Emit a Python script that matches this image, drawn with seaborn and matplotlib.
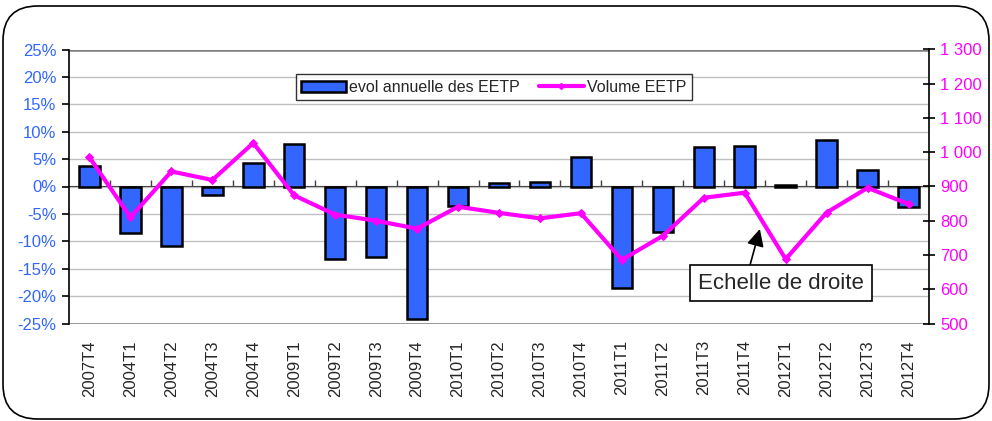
import numpy as np
import pandas as pd
import matplotlib
matplotlib.use("Agg")
import matplotlib.pyplot as plt
import seaborn as sns
from matplotlib.patches import FancyBboxPatch, Patch
from matplotlib.lines import Line2D
from matplotlib.ticker import FuncFormatter

# quarters (labels as shown on the chart)
quarters = ["2007T4", "2004T1", "2004T2", "2004T3", "2004T4", "2009T1", "2009T2",
            "2009T3", "2009T4", "2010T1", "2010T2", "2010T3", "2010T4", "2011T1",
            "2011T2", "2011T3", "2011T4", "2012T1", "2012T2", "2012T3", "2012T4"]
# annual evolution of EETP (%)
evol_pct = [3.7, -8.5, -10.9, -1.6, 4.3, 7.7, -13.2, -12.8, -24.1, -3.5, 0.7,
            0.8, 5.3, -18.5, -8.3, 7.2, 7.4, 0.3, 8.5, 3.0, -3.8]
# EETP volume (right scale)
volume = [985, 810, 944, 919, 1027, 874, 818, 800, 777, 841, 823,
          807, 822, 686, 756, 867, 882, 688, 824, 896, 849]

df = pd.DataFrame({"trimestre": quarters, "evol": evol_pct, "volume": volume})

BLUE = "#3366FF"
MAGENTA = "#FF00FF"

sns.set_style("white")
plt.rcParams["font.family"] = ["Liberation Sans", "DejaVu Sans"]

fig = plt.figure(figsize=(9.92, 4.21), dpi=100)
ax = fig.add_axes([69 / 992, 1 - 323.5 / 421, 860 / 992, 274 / 421])

# rounded chart frame
frame = FancyBboxPatch((3 / 992, 2 / 421), 986 / 992, 413 / 421, transform=fig.transFigure,
                       boxstyle="round,pad=0,rounding_size=0.035", fc="none", ec="black",
                       lw=1.2, mutation_aspect=992 / 421, clip_on=False)
fig.patches.append(frame)

sns.barplot(data=df, x="trimestre", y="evol", color=BLUE, width=0.5,
            edgecolor="black", linewidth=1.8, saturation=1, ax=ax, zorder=3)
ax.set_ylim(-25, 25)
ax.set_xlim(-0.5, len(quarters) - 0.5)
ax.set_yticks(np.arange(-25, 26, 5))
ax.yaxis.set_major_formatter(FuncFormatter(lambda v, p: f"{v:.0f}%"))
ax.grid(axis="y", color="#C0C0C0", lw=1)
ax.set_axisbelow(True)
ax.set_xlabel("")
ax.set_ylabel("")
for s in ["top", "right", "bottom"]:
    ax.spines[s].set_visible(False)
ax.spines["left"].set_color("black")
ax.spines["left"].set_linewidth(1.2)
ax.axhline(25, color="#808080", lw=1.8, zorder=1)
ax.axhline(-25, color="#808080", lw=1.8, zorder=1)
ax.tick_params(axis="y", colors="black", labelcolor=BLUE, labelsize=12,
               direction="out", length=5, width=1.2, left=True, pad=4)
ax.tick_params(axis="x", labelrotation=90, labelsize=12, length=0, pad=12)

# category axis crossing at zero, with ticks between categories
zero_axis = ax.secondary_xaxis(0.5)
zero_axis.set_xticks(np.arange(0.5, len(quarters) - 1, 1))
zero_axis.tick_params(direction="out", length=4, width=1, color="#404040", labelbottom=False,
                      labeltop=False)
zero_axis.spines["bottom"].set_color("#404040")
zero_axis.spines["bottom"].set_linewidth(1.5)

ax2 = ax.twinx()
x = np.arange(len(quarters))
sns.lineplot(x=x, y=df["volume"], color=MAGENTA, lw=3, marker="D", markersize=4,
             markeredgecolor=MAGENTA, ax=ax2, zorder=4)
ax2.set_ylim(500, 1300)
ax2.set_yticks(np.arange(500, 1301, 100))
ax2.yaxis.set_major_formatter(FuncFormatter(lambda v, p: f"{v:,.0f}".replace(",", " ")))
ax2.set_ylabel("")
for s in ["top", "left", "bottom"]:
    ax2.spines[s].set_visible(False)
ax2.spines["right"].set_color("black")
ax2.spines["right"].set_linewidth(1.2)
ax2.tick_params(axis="y", colors="black", labelcolor=MAGENTA, labelsize=12,
                direction="inout", length=8, width=1.2, right=True, pad=4)

handles = [Patch(facecolor=BLUE, edgecolor="black", lw=1.8),
           Line2D([], [], color=MAGENTA, lw=3, marker="D", markersize=3)]
leg = ax2.legend(handles, ["evol annuelle des EETP", "Volume EETP"], loc="center",
                 bbox_to_anchor=(0.494, 0.862), ncol=2, frameon=True, fancybox=False,
                 fontsize=11.5, handlelength=2.8, handletextpad=0.2, columnspacing=1.2,
                 borderpad=0.35, borderaxespad=0)
leg.get_frame().set_edgecolor("black")
leg.get_frame().set_linewidth(1)

ax2.annotate("Echelle de droite", xy=(16.37, 776), xytext=(16.89, 618),
             fontsize=16, ha="center", va="center",
             bbox=dict(boxstyle="square,pad=0.35", fc="white", ec="black", lw=1.2),
             arrowprops=dict(arrowstyle="-|>", color="black", lw=1.2, mutation_scale=26,
                             shrinkA=0, shrinkB=0, relpos=(0.3, 1.0)), zorder=6)

fig.savefig("out.png", dpi=100)
